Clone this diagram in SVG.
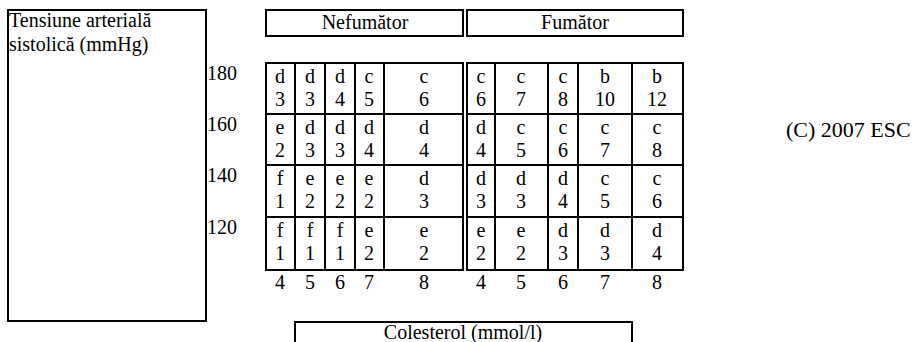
<svg xmlns="http://www.w3.org/2000/svg" width="920" height="342" viewBox="0 0 920 342">
<style>
text{font-family:"Liberation Serif","Times New Roman",serif;font-size:20px;fill:#000}
.c{text-anchor:middle}
.b{fill:none;stroke:#000;stroke-width:2}
</style>
<rect width="920" height="342" fill="#fff"/>
<g id="yaxis">
<rect class="b" x="8" y="10" width="198" height="311"/>
<text x="9" y="27">Tensiune arterială</text>
<text x="9" y="51">sistolică (mmHg)</text>
<text x="207" y="80">180</text>
<text x="207" y="131">160</text>
<text x="207" y="182">140</text>
<text x="207" y="234">120</text>
</g>
<g id="hdr-nef">
<rect class="b" x="266" y="10" width="197" height="26"/>
<text class="c" x="365" y="29">Nefumător</text>
</g>
<g id="hdr-fum">
<rect class="b" x="467" y="10" width="216" height="26"/>
<text class="c" x="575" y="29">Fumător</text>
</g>
<g id="grid-nef">
<rect class="b" x="266" y="63" width="197" height="207"/>
<path class="b" d="M295 63V270M325 63V270M355 63V270M384 63V270M266 114H463M266 165H463M266 217H463"/>
</g>
<g id="grid-fum">
<rect class="b" x="467" y="63" width="216" height="207"/>
<path class="b" d="M495 63V270M548 63V270M578 63V270M632 63V270M467 114H683M467 165H683M467 217H683"/>
</g>
<g id="cells" class="c">
<text class="c" x="280" y="83">d</text><text class="c" x="310" y="83">d</text><text class="c" x="340" y="83">d</text><text class="c" x="369" y="83">c</text><text class="c" x="424" y="83">c</text>
<text class="c" x="481" y="83">c</text><text class="c" x="521" y="83">c</text><text class="c" x="563" y="83">c</text><text class="c" x="605" y="83">b</text><text class="c" x="657" y="83">b</text>
<text class="c" x="280" y="106">3</text><text class="c" x="310" y="106">3</text><text class="c" x="340" y="106">4</text><text class="c" x="369" y="106">5</text><text class="c" x="424" y="106">6</text>
<text class="c" x="481" y="106">6</text><text class="c" x="521" y="106">7</text><text class="c" x="563" y="106">8</text><text class="c" x="605" y="106">10</text><text class="c" x="657" y="106">12</text>

<text class="c" x="280" y="134">e</text><text class="c" x="310" y="134">d</text><text class="c" x="340" y="134">d</text><text class="c" x="369" y="134">d</text><text class="c" x="424" y="134">d</text>
<text class="c" x="481" y="134">d</text><text class="c" x="521" y="134">c</text><text class="c" x="563" y="134">c</text><text class="c" x="605" y="134">c</text><text class="c" x="657" y="134">c</text>
<text class="c" x="280" y="157">2</text><text class="c" x="310" y="157">3</text><text class="c" x="340" y="157">3</text><text class="c" x="369" y="157">4</text><text class="c" x="424" y="157">4</text>
<text class="c" x="481" y="157">4</text><text class="c" x="521" y="157">5</text><text class="c" x="563" y="157">6</text><text class="c" x="605" y="157">7</text><text class="c" x="657" y="157">8</text>

<text class="c" x="280" y="185">f</text><text class="c" x="310" y="185">e</text><text class="c" x="340" y="185">e</text><text class="c" x="369" y="185">e</text><text class="c" x="424" y="185">d</text>
<text class="c" x="481" y="185">d</text><text class="c" x="521" y="185">d</text><text class="c" x="563" y="185">d</text><text class="c" x="605" y="185">c</text><text class="c" x="657" y="185">c</text>
<text class="c" x="280" y="208">1</text><text class="c" x="310" y="208">2</text><text class="c" x="340" y="208">2</text><text class="c" x="369" y="208">2</text><text class="c" x="424" y="208">3</text>
<text class="c" x="481" y="208">3</text><text class="c" x="521" y="208">3</text><text class="c" x="563" y="208">4</text><text class="c" x="605" y="208">5</text><text class="c" x="657" y="208">6</text>

<text class="c" x="280" y="237">f</text><text class="c" x="310" y="237">f</text><text class="c" x="340" y="237">f</text><text class="c" x="369" y="237">e</text><text class="c" x="424" y="237">e</text>
<text class="c" x="481" y="237">e</text><text class="c" x="521" y="237">e</text><text class="c" x="563" y="237">d</text><text class="c" x="605" y="237">d</text><text class="c" x="657" y="237">d</text>
<text class="c" x="280" y="260">1</text><text class="c" x="310" y="260">1</text><text class="c" x="340" y="260">1</text><text class="c" x="369" y="260">2</text><text class="c" x="424" y="260">2</text>
<text class="c" x="481" y="260">2</text><text class="c" x="521" y="260">2</text><text class="c" x="563" y="260">3</text><text class="c" x="605" y="260">3</text><text class="c" x="657" y="260">4</text>
</g>
<g id="xaxis">
<text class="c" x="280" y="289">4</text><text class="c" x="310" y="289">5</text><text class="c" x="340" y="289">6</text><text class="c" x="369" y="289">7</text><text class="c" x="424" y="289">8</text>
<text class="c" x="481" y="289">4</text><text class="c" x="521" y="289">5</text><text class="c" x="563" y="289">6</text><text class="c" x="605" y="289">7</text><text class="c" x="657" y="289">8</text>
</g>
<g id="colesterol">
<rect class="b" x="295" y="322" width="337" height="30"/>
<text class="c" x="463" y="339">Colesterol (mmol/l)</text>
</g>
<g id="copyright">
<text x="786" y="137" style="font-size:22px">(C) 2007 ESC</text>
</g>
</svg>
